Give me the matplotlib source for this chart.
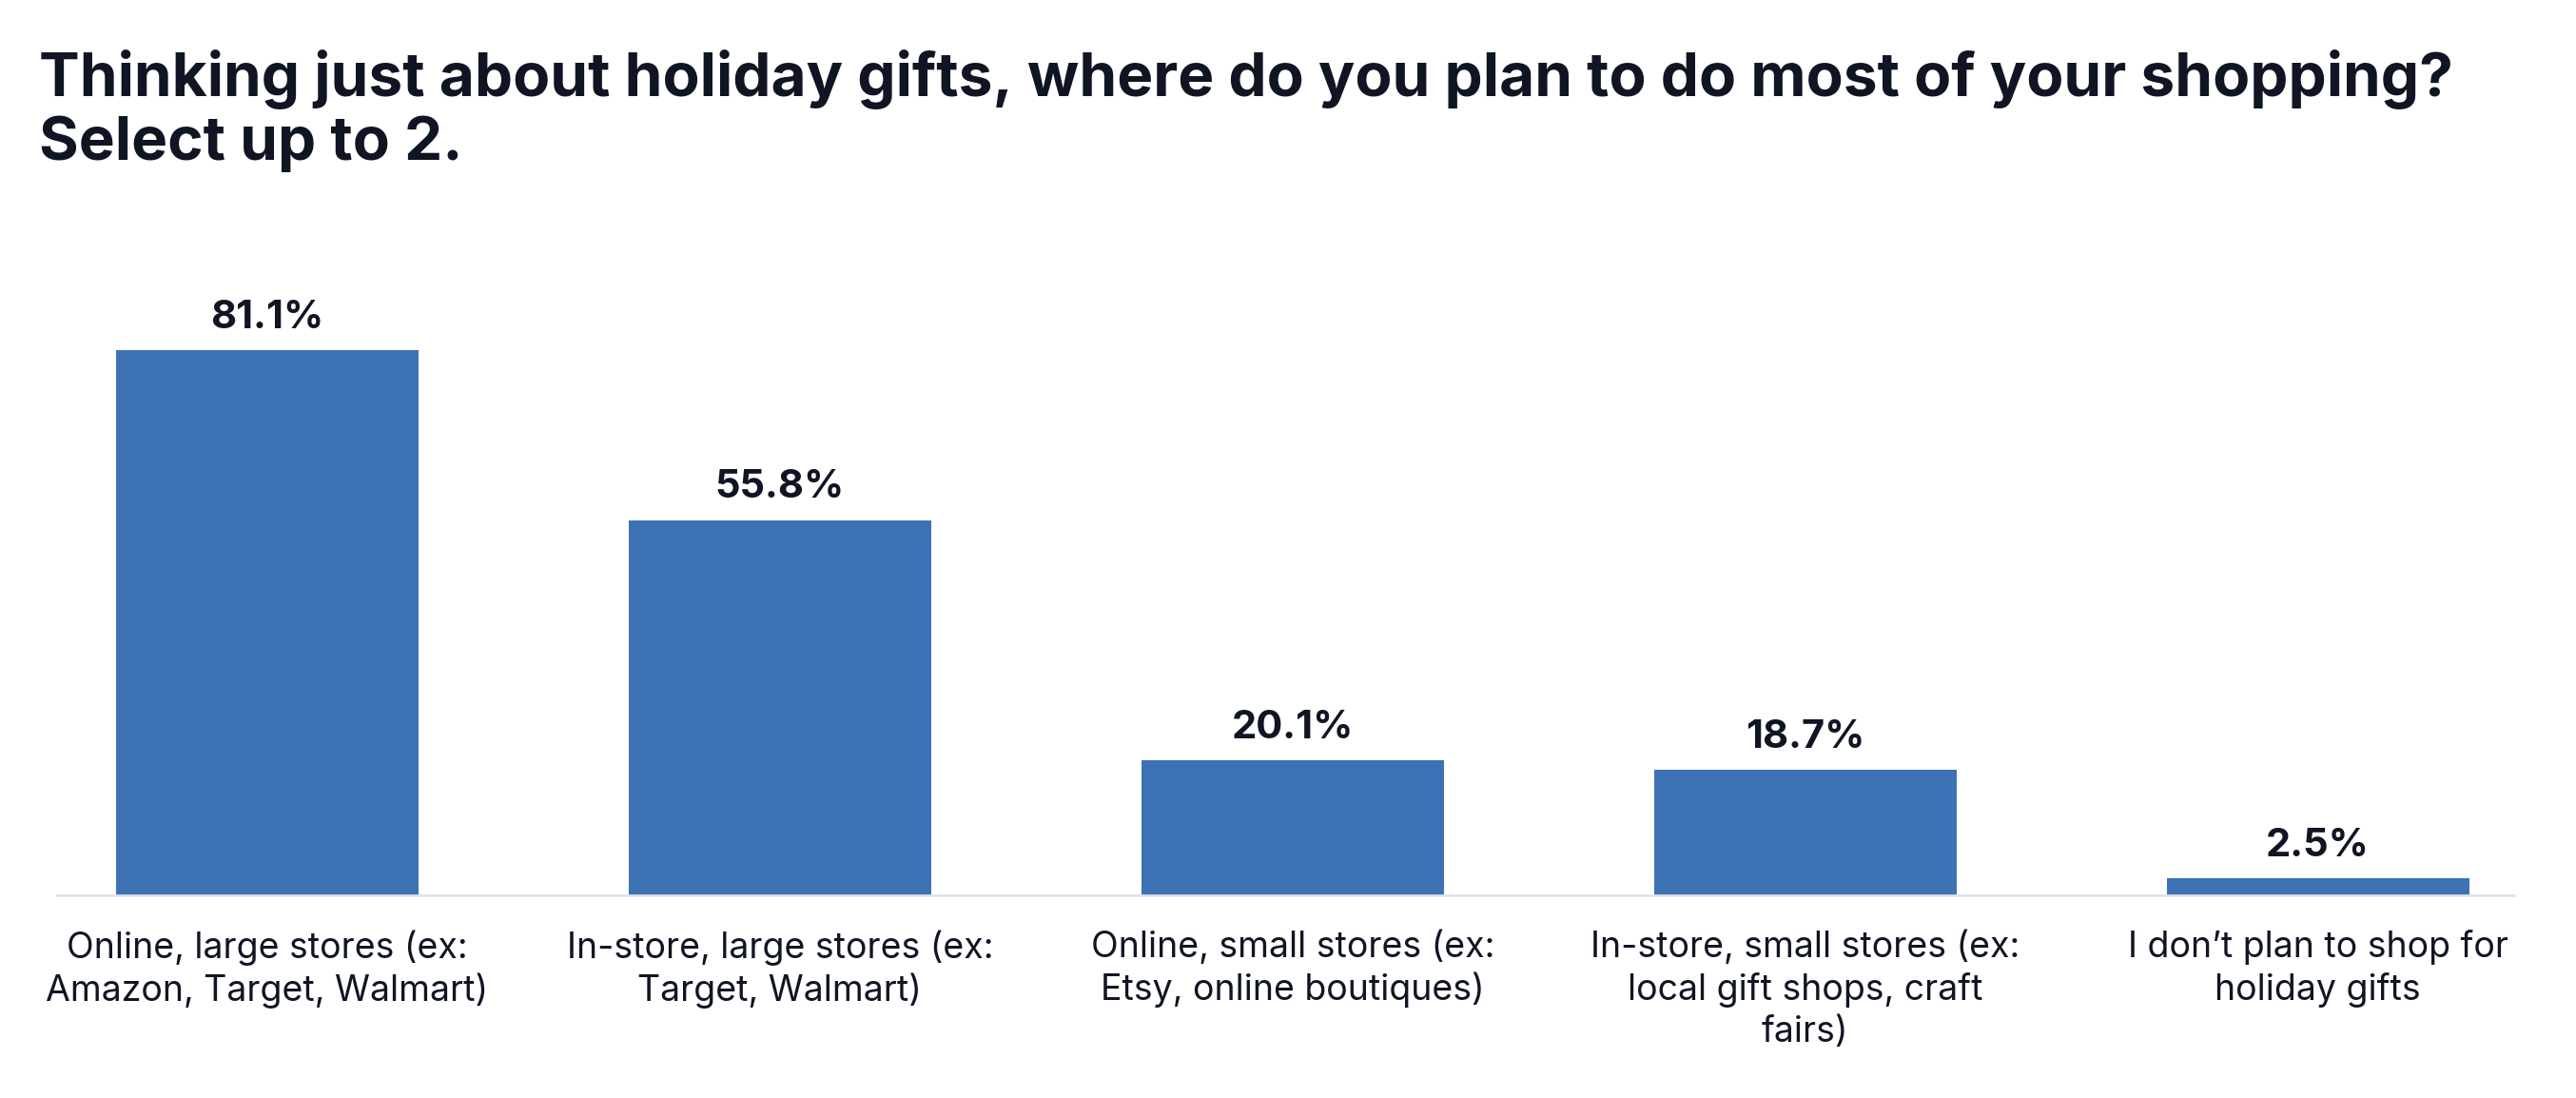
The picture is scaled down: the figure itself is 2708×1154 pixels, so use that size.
import matplotlib
matplotlib.use("Agg")
import matplotlib.pyplot as plt

categories = [
    "Online, large stores (ex:\nAmazon, Target, Walmart)",
    "In-store, large stores (ex:\nTarget, Walmart)",
    "Online, small stores (ex:\nEtsy, online boutiques)",
    "In-store, small stores (ex:\nlocal gift shops, craft\nfairs)",
    "I don\u2019t plan to shop for\nholiday gifts",
]
values = [81.1, 55.8, 20.1, 18.7, 2.5]
value_labels = ["81.1%", "55.8%", "20.1%", "18.7%", "2.5%"]
title = "Thinking just about holiday gifts, where do you plan to do most of your shopping?\nSelect up to 2."

plt.rcParams["font.family"] = ["Inter", "DejaVu Sans"]
text_color = "#0f1523"
bar_color = "#3d72b4"

fig = plt.figure(figsize=(27.08, 11.54), dpi=100)
ax = fig.add_axes([0.0222, 0.1846, 0.9538, 0.6124])

x = list(range(len(values)))
ax.bar(x, values, width=0.59, color=bar_color)

for xi, v, lab in zip(x, values, value_labels):
    ax.annotate(lab, (xi, v), xytext=(0, 11), textcoords="offset points",
                ha="center", va="bottom", fontsize=30, fontweight="bold",
                color=text_color)

ax.set_xlim(-0.41, 4.383)
ax.set_ylim(0, 100)
ax.set_xticks(x)
ax.set_xticklabels(categories, fontsize=27, color=text_color, linespacing=1.28)
ax.tick_params(axis="x", length=0, pad=26)
ax.set_yticks([])

for s in ["top", "right", "left"]:
    ax.spines[s].set_visible(False)
ax.spines["bottom"].set_color("#dde3ea")
ax.spines["bottom"].set_linewidth(2)

fig.text(0.0151, 0.955, title, ha="left", va="top", fontsize=46,
         fontweight="bold", color=text_color, linespacing=1.15)

fig.savefig("out.png", dpi=100, facecolor="white")
